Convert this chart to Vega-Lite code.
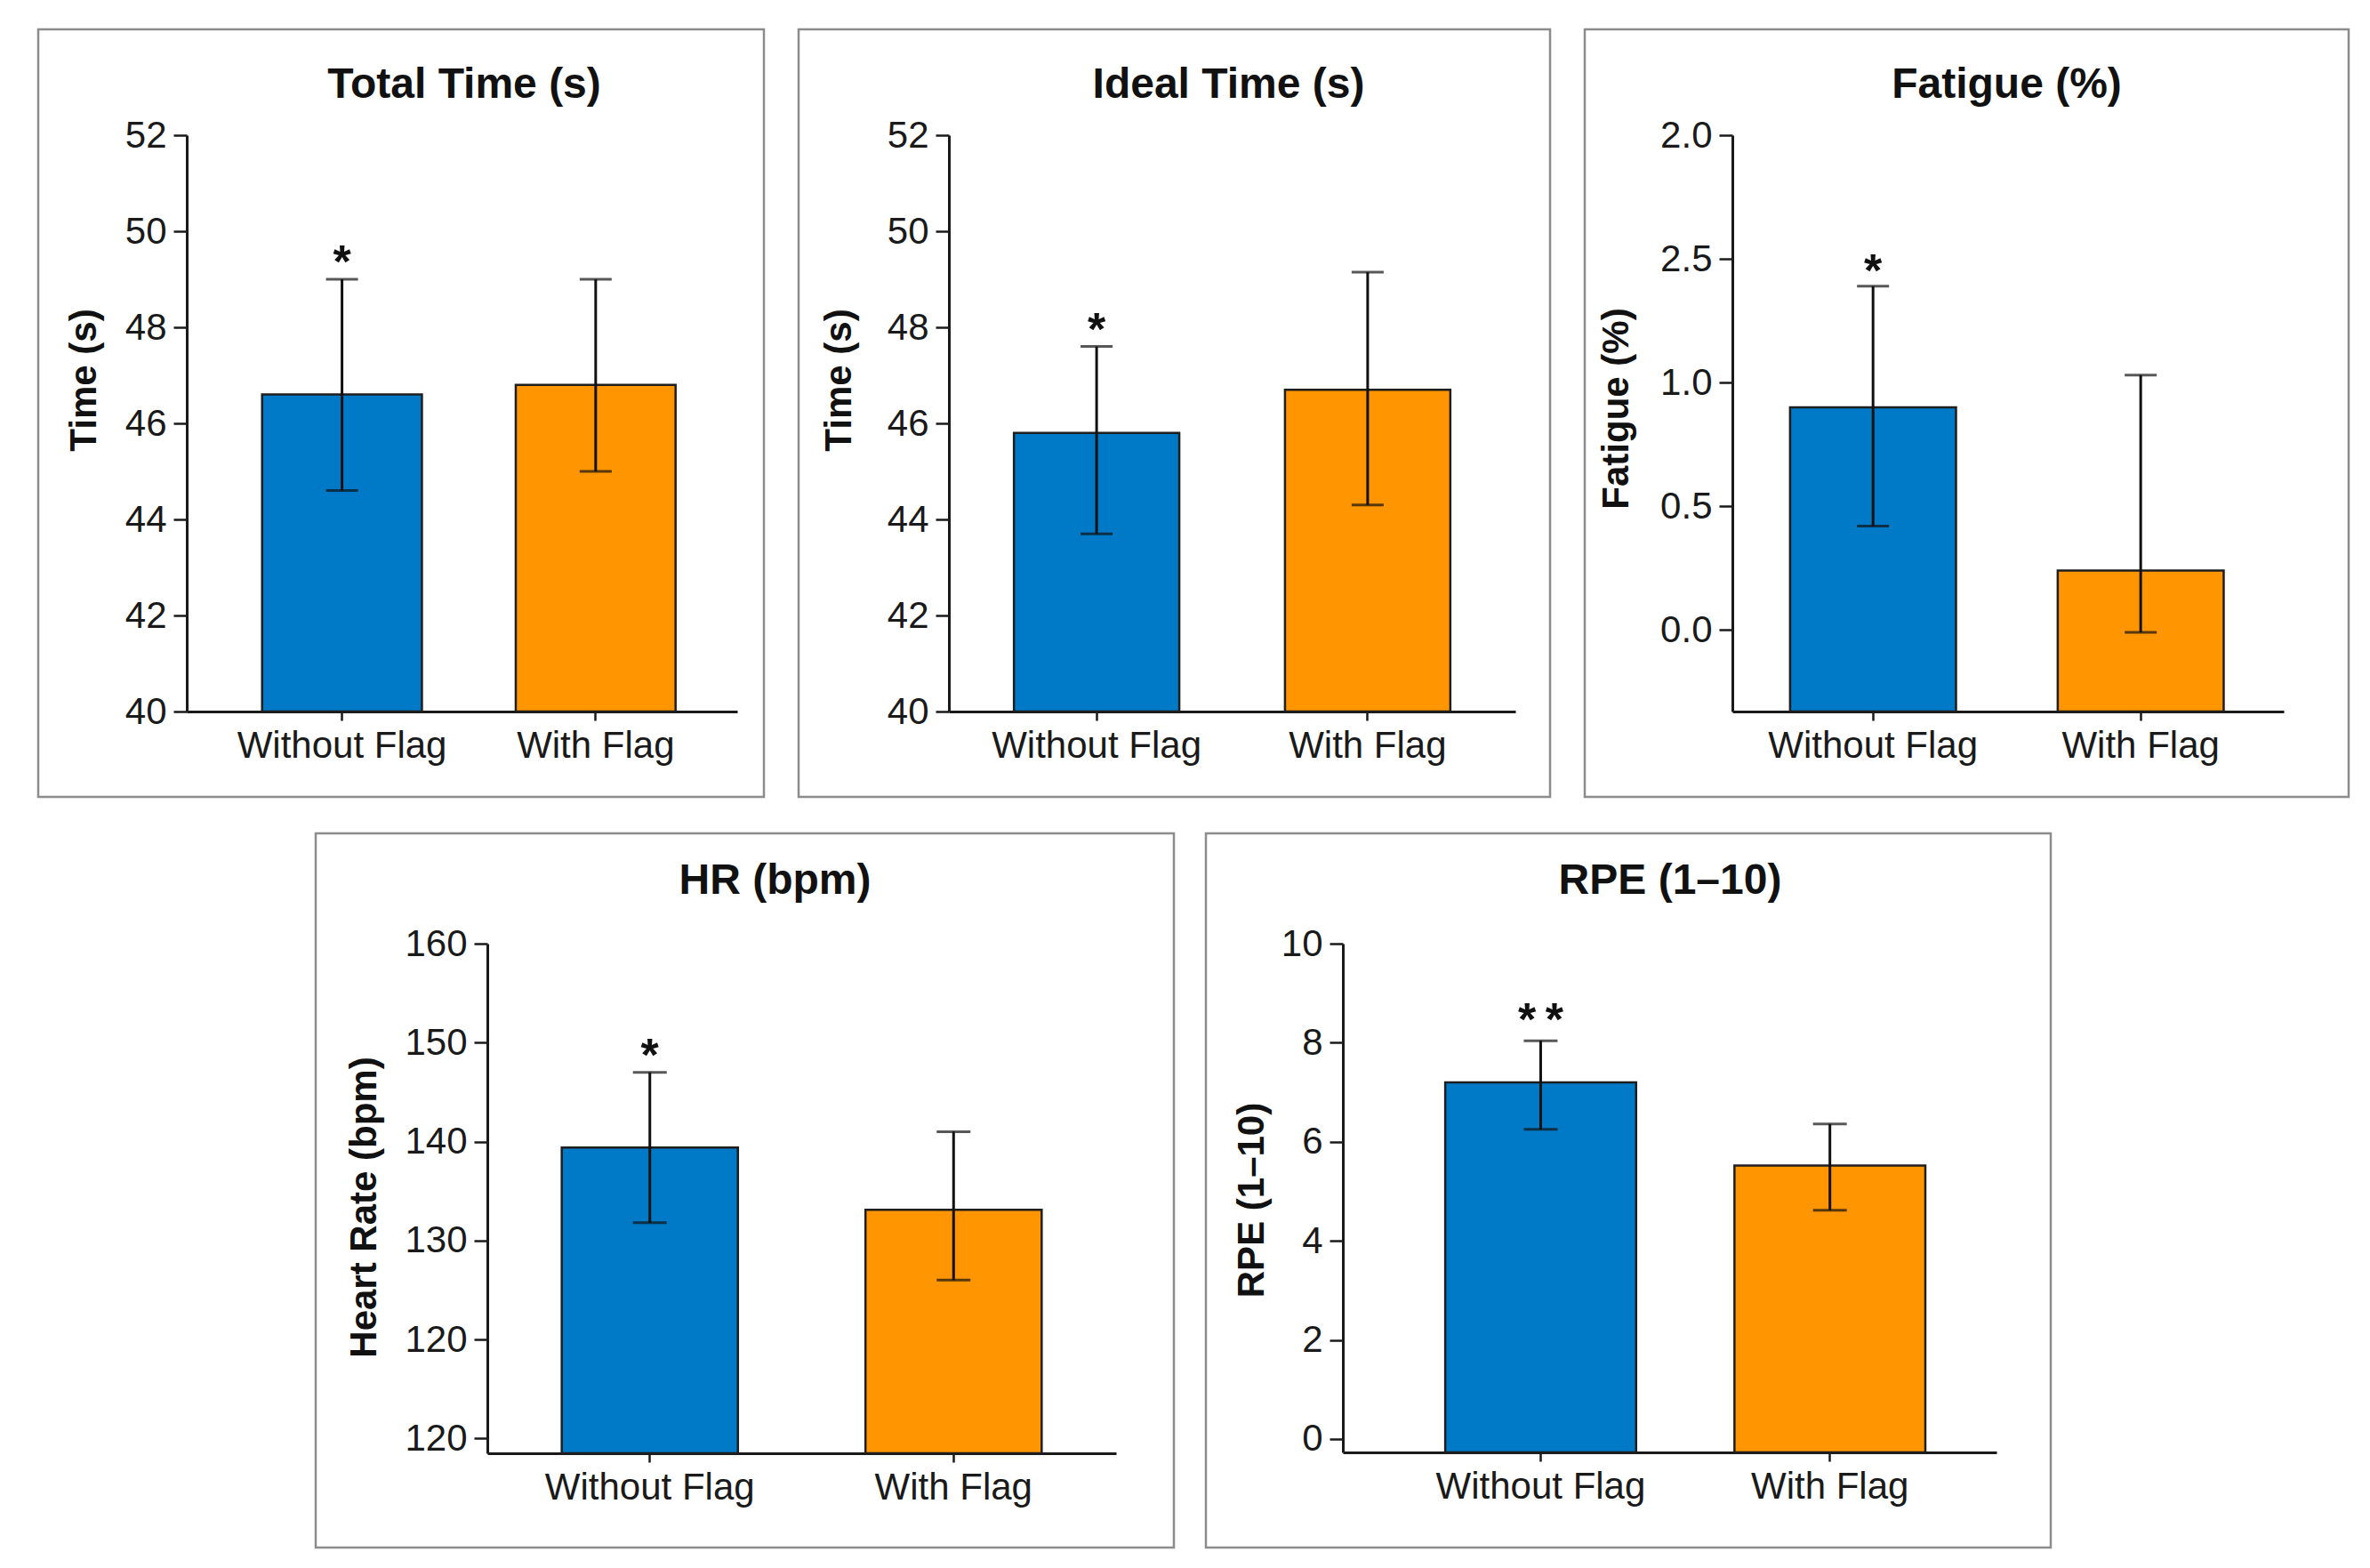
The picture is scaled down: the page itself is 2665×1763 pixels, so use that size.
{
  "$schema": "https://vega.github.io/schema/vega-lite/v6.json",
  "background": "white",
  "padding": {"left": 41, "top": 31, "right": 0, "bottom": 0},
  "datasets": {
    "stats": [
      {"panel": "total", "condition": "Without Flag", "mean": 46.6, "lo": 44.6, "hi": 49.0, "sig": "*"},
      {"panel": "total", "condition": "With Flag", "mean": 46.8, "lo": 45.0, "hi": 49.0, "sig": ""},
      {"panel": "ideal", "condition": "Without Flag", "mean": 45.8, "lo": 43.7, "hi": 47.6, "sig": "*"},
      {"panel": "ideal", "condition": "With Flag", "mean": 46.7, "lo": 44.3, "hi": 49.15, "sig": ""},
      {"panel": "fatigue", "condition": "Without Flag", "mean": 0.9, "lo": 0.42, "hi": 1.39, "sig": "*"},
      {"panel": "fatigue", "condition": "With Flag", "mean": 0.24, "lo": -0.01, "hi": 1.03, "sig": ""},
      {"panel": "hr", "condition": "Without Flag", "mean": 139.4, "lo": 131.8, "hi": 147.0, "sig": "*"},
      {"panel": "hr", "condition": "With Flag", "mean": 133.1, "lo": 126.0, "hi": 141.0, "sig": ""},
      {"panel": "rpe", "condition": "Without Flag", "mean": 7.2, "lo": 6.25, "hi": 8.04, "sig": "*\u2009*"},
      {"panel": "rpe", "condition": "With Flag", "mean": 5.52, "lo": 4.62, "hi": 6.36, "sig": ""}
    ]
  },
  "data": {"name": "stats"},
  "vconcat": [
    {
      "hconcat": [
        {
          "width": 816,
          "height": 863,
          "title": {"text": "Total Time (s)", "offset": -87, "dx": 71},
          "transform": [{"filter": "datum.panel == 'total'"}],
          "encoding": {
            "x": {"field": "condition", "type": "nominal", "sort": ["Without Flag", "With Flag"], "title": null,
              "scale": {"range": [167, 786], "paddingInner": 0.37, "paddingOuter": 0.27, "align": 0.55},
              "axis": {"offset": -96}}
          },
          "layer": [
            {
              "mark": {"type": "bar", "stroke": "#1e1e1e", "strokeWidth": 2.5},
              "encoding": {
                "y": {"field": "mean", "type": "quantitative", "title": "Time (s)",
                  "scale": {"domain": [40, 52], "range": [767, 119], "zero": false, "nice": false},
                  "axis": {"offset": -167, "values": [40, 42, 44, 46, 48, 50, 52], "format": "d", "titleX": -116, "titleY": 394}},
                "y2": {"datum": 40},
                "color": {"field": "condition", "type": "nominal", "legend": null,
                  "scale": {"domain": ["Without Flag", "With Flag"], "range": ["#0079c6", "#ff9500"]}}
              }
            },
            {"mark": {"type": "rule", "color": "#111111", "strokeWidth": 3},
              "encoding": {"y": {"field": "lo", "type": "quantitative", "title": "Time (s)"}, "y2": {"field": "hi"}}},
            {"mark": {"type": "tick", "color": "#111111", "thickness": 3, "size": 36},
              "encoding": {"y": {"field": "lo", "type": "quantitative", "title": "Time (s)"}}},
            {"mark": {"type": "tick", "color": "#111111", "thickness": 3, "size": 36},
              "encoding": {"y": {"field": "hi", "type": "quantitative", "title": "Time (s)"}}},
            {"transform": [{"filter": "datum.sig != ''"}],
              "mark": {"type": "text", "fontSize": 52, "fontWeight": "bold", "baseline": "alphabetic", "dy": -2, "color": "#111111"},
              "encoding": {"y": {"field": "hi", "type": "quantitative", "title": "Time (s)"}, "text": {"field": "sig"}}}
          ]
        },
        {
          "width": 845,
          "height": 863,
          "title": {"text": "Ideal Time (s)", "offset": -87, "dx": 61},
          "transform": [{"filter": "datum.panel == 'ideal'"}],
          "encoding": {
            "x": {"field": "condition", "type": "nominal", "sort": ["Without Flag", "With Flag"], "title": null,
              "scale": {"range": [169, 806], "paddingInner": 0.39, "paddingOuter": 0.24, "align": 0.5},
              "axis": {"offset": -96}}
          },
          "layer": [
            {
              "mark": {"type": "bar", "stroke": "#1e1e1e", "strokeWidth": 2.5},
              "encoding": {
                "y": {"field": "mean", "type": "quantitative", "title": "Time (s)",
                  "scale": {"domain": [40, 52], "range": [767, 119], "zero": false, "nice": false},
                  "axis": {"offset": -169, "values": [40, 42, 44, 46, 48, 50, 52], "format": "d", "titleX": -124, "titleY": 394}},
                "y2": {"datum": 40},
                "color": {"field": "condition", "type": "nominal", "legend": null,
                  "scale": {"domain": ["Without Flag", "With Flag"], "range": ["#0079c6", "#ff9500"]}}
              }
            },
            {"mark": {"type": "rule", "color": "#111111", "strokeWidth": 3},
              "encoding": {"y": {"field": "lo", "type": "quantitative", "title": "Time (s)"}, "y2": {"field": "hi"}}},
            {"mark": {"type": "tick", "color": "#111111", "thickness": 3, "size": 36},
              "encoding": {"y": {"field": "lo", "type": "quantitative", "title": "Time (s)"}}},
            {"mark": {"type": "tick", "color": "#111111", "thickness": 3, "size": 36},
              "encoding": {"y": {"field": "hi", "type": "quantitative", "title": "Time (s)"}}},
            {"transform": [{"filter": "datum.sig != ''"}],
              "mark": {"type": "text", "fontSize": 52, "fontWeight": "bold", "baseline": "alphabetic", "dy": -2, "color": "#111111"},
              "encoding": {"y": {"field": "hi", "type": "quantitative", "title": "Time (s)"}, "text": {"field": "sig"}}}
          ]
        },
        {
          "width": 859,
          "height": 863,
          "title": {"text": "Fatigue (%)", "offset": -87, "dx": 45},
          "transform": [{"filter": "datum.panel == 'fatigue'"}],
          "encoding": {
            "x": {"field": "condition", "type": "nominal", "sort": ["Without Flag", "With Flag"], "title": null,
              "scale": {"range": [166, 786], "paddingInner": 0.38, "paddingOuter": 0.22, "align": 0.49},
              "axis": {"offset": -96}}
          },
          "layer": [
            {
              "mark": {"type": "bar", "stroke": "#1e1e1e", "strokeWidth": 2.5},
              "encoding": {
                "y": {"field": "mean", "type": "quantitative", "title": "Fatigue (%)",
                  "scale": {"domain": [-0.33, 2.0], "range": [767, 119], "zero": false, "nice": false},
                  "axis": {"offset": -166, "values": [0, 0.5, 1.0, 1.5, 2.0],
                    "labelExpr": "datum.value == 1.5 ? '2.5' : format(datum.value, '.1f')",
                    "titleX": -131, "titleY": 426}},
                "y2": {"datum": -0.33},
                "color": {"field": "condition", "type": "nominal", "legend": null,
                  "scale": {"domain": ["Without Flag", "With Flag"], "range": ["#0079c6", "#ff9500"]}}
              }
            },
            {"mark": {"type": "rule", "color": "#111111", "strokeWidth": 3},
              "encoding": {"y": {"field": "lo", "type": "quantitative", "title": "Fatigue (%)"}, "y2": {"field": "hi"}}},
            {"mark": {"type": "tick", "color": "#111111", "thickness": 3, "size": 36},
              "encoding": {"y": {"field": "lo", "type": "quantitative", "title": "Fatigue (%)"}}},
            {"mark": {"type": "tick", "color": "#111111", "thickness": 3, "size": 36},
              "encoding": {"y": {"field": "hi", "type": "quantitative", "title": "Fatigue (%)"}}},
            {"transform": [{"filter": "datum.sig != ''"}],
              "mark": {"type": "text", "fontSize": 52, "fontWeight": "bold", "baseline": "alphabetic", "dy": 0, "color": "#111111"},
              "encoding": {"y": {"field": "hi", "type": "quantitative", "title": "Fatigue (%)"}, "text": {"field": "sig"}}}
          ]
        }
      ],
      "spacing": 35
    },
    {
      "hconcat": [
        {
          "width": 278,
          "height": 803,
          "view": {"stroke": null, "fill": null},
          "data": {"values": []},
          "mark": "point"
        },
        {
          "width": 965,
          "height": 803,
          "title": {"text": "HR (bpm)", "offset": -78, "dx": 34},
          "transform": [{"filter": "datum.panel == 'hr'"}],
          "encoding": {
            "x": {"field": "condition", "type": "nominal", "sort": ["Without Flag", "With Flag"], "title": null,
              "scale": {"range": [193, 900], "paddingInner": 0.42, "paddingOuter": 0.245, "align": 0.5},
              "axis": {"offset": -106}}
          },
          "layer": [
            {
              "mark": {"type": "bar", "stroke": "#1e1e1e", "strokeWidth": 2.5},
              "encoding": {
                "y": {"field": "mean", "type": "quantitative", "title": "Heart Rate (bpm)",
                  "scale": {"domain": [108.5, 160], "range": [697, 124], "zero": false, "nice": false},
                  "axis": {"offset": -193, "values": [110, 120, 130, 140, 150, 160], "format": "d",
                    "labelExpr": "datum.value == 110 ? '120' : datum.label",
                    "titleX": -139, "titleY": 420}},
                "y2": {"datum": 108.5},
                "color": {"field": "condition", "type": "nominal", "legend": null,
                  "scale": {"domain": ["Without Flag", "With Flag"], "range": ["#0079c6", "#ff9500"]}}
              }
            },
            {"mark": {"type": "rule", "color": "#111111", "strokeWidth": 3},
              "encoding": {"y": {"field": "lo", "type": "quantitative", "title": "Heart Rate (bpm)"}, "y2": {"field": "hi"}}},
            {"mark": {"type": "tick", "color": "#111111", "thickness": 3, "size": 38},
              "encoding": {"y": {"field": "lo", "type": "quantitative", "title": "Heart Rate (bpm)"}}},
            {"mark": {"type": "tick", "color": "#111111", "thickness": 3, "size": 38},
              "encoding": {"y": {"field": "hi", "type": "quantitative", "title": "Heart Rate (bpm)"}}},
            {"transform": [{"filter": "datum.sig != ''"}],
              "mark": {"type": "text", "fontSize": 52, "fontWeight": "bold", "baseline": "alphabetic", "dy": -2, "color": "#111111"},
              "encoding": {"y": {"field": "hi", "type": "quantitative", "title": "Heart Rate (bpm)"}, "text": {"field": "sig"}}}
          ]
        },
        {
          "width": 950,
          "height": 803,
          "title": {"text": "RPE (1–10)", "offset": -78, "dx": 47},
          "transform": [{"filter": "datum.panel == 'rpe'"}],
          "encoding": {
            "x": {"field": "condition", "type": "nominal", "sort": ["Without Flag", "With Flag"], "title": null,
              "scale": {"range": [154, 889], "paddingInner": 0.34, "paddingOuter": 0.3, "align": 0.59},
              "axis": {"offset": -107}}
          },
          "layer": [
            {
              "mark": {"type": "bar", "stroke": "#1e1e1e", "strokeWidth": 2.5},
              "encoding": {
                "y": {"field": "mean", "type": "quantitative", "title": "RPE (1–10)",
                  "scale": {"domain": [-0.27, 10], "range": [696, 124], "zero": false, "nice": false},
                  "axis": {"offset": -154, "values": [0, 2, 4, 6, 8, 10], "format": "d",
                    "titleX": -103, "titleY": 412}},
                "y2": {"datum": -0.27},
                "color": {"field": "condition", "type": "nominal", "legend": null,
                  "scale": {"domain": ["Without Flag", "With Flag"], "range": ["#0079c6", "#ff9500"]}}
              }
            },
            {"mark": {"type": "rule", "color": "#111111", "strokeWidth": 3},
              "encoding": {"y": {"field": "lo", "type": "quantitative", "title": "RPE (1–10)"}, "y2": {"field": "hi"}}},
            {"mark": {"type": "tick", "color": "#111111", "thickness": 3, "size": 38},
              "encoding": {"y": {"field": "lo", "type": "quantitative", "title": "RPE (1–10)"}}},
            {"mark": {"type": "tick", "color": "#111111", "thickness": 3, "size": 38},
              "encoding": {"y": {"field": "hi", "type": "quantitative", "title": "RPE (1–10)"}}},
            {"transform": [{"filter": "datum.sig != ''"}],
              "mark": {"type": "text", "fontSize": 52, "fontWeight": "bold", "baseline": "alphabetic", "dy": -6, "color": "#111111"},
              "encoding": {"y": {"field": "hi", "type": "quantitative", "title": "RPE (1–10)"}, "text": {"field": "sig"}}}
          ]
        }
      ],
      "spacing": 32
    }
  ],
  "spacing": 37,
  "config": {
    "font": "Liberation Sans",
    "view": {"stroke": "#8c8c8c", "strokeWidth": 2.5, "fill": "white"},
    "axis": {
      "grid": false,
      "domainColor": "#1a1a1a",
      "domainWidth": 3,
      "tickColor": "#1a1a1a",
      "tickWidth": 2.5,
      "labelFont": "Liberation Sans",
      "labelFontSize": 42,
      "labelColor": "#1a1a1a",
      "labelFlush": false,
      "labelOverlap": false,
      "labelLimit": 500,
      "titleFont": "Liberation Sans",
      "titleFontSize": 42,
      "titleFontWeight": "bold",
      "titleColor": "#111111",
      "titleAlign": "center",
      "titleBaseline": "middle"
    },
    "axisY": {"tickSize": 15, "labelPadding": 8},
    "axisX": {"tickSize": 10, "labelPadding": 8, "labelAngle": 0, "bandPosition": 0.5},
    "title": {"font": "Liberation Sans", "fontSize": 48, "fontWeight": "bold", "color": "#111111", "frame": "group", "baseline": "middle", "anchor": "middle"}
  }
}
